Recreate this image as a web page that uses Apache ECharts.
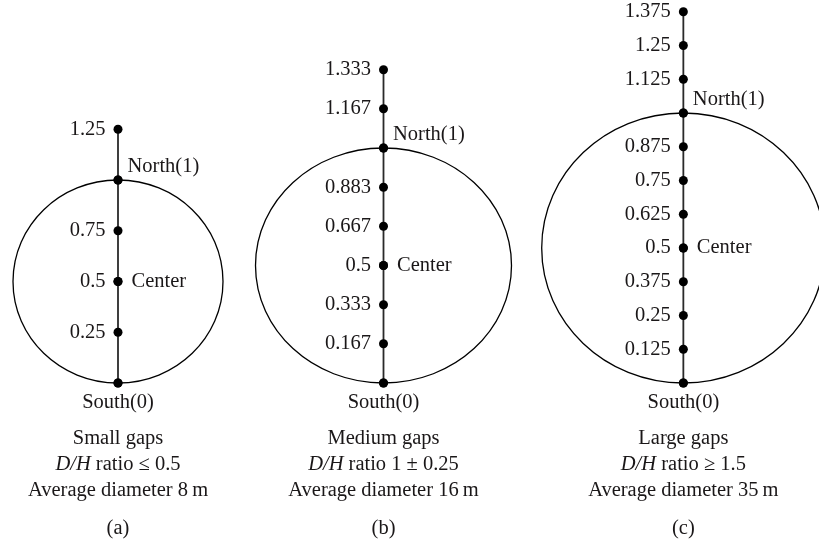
<!DOCTYPE html>
<html><head><meta charset="utf-8">
<script src="https://cdn.jsdelivr.net/npm/echarts@6/dist/echarts.min.js"></script>
<style>html,body{margin:0;padding:0;background:#fff}#c{width:819px;height:540px}</style>
</head><body><div id="c"></div>
<script>
// ---- data ----
const aValues = [0, 0.25, 0.5, 0.75, 1, 1.25];
const aTickLabels = ['', '0.25', '0.5', '0.75', '', '1.25'];
const bValues = [0, 0.167, 0.333, 0.5, 0.667, 0.833, 1, 1.167, 1.333];
const bTickLabels = ['', '0.167', '0.333', '0.5', '0.667', '0.883', '', '1.167', '1.333'];
const cValues = [0, 0.125, 0.25, 0.375, 0.5, 0.625, 0.75, 0.875, 1, 1.125, 1.25, 1.375];
const cTickLabels = ['', '0.125', '0.25', '0.375', '0.5', '0.625', '0.75', '0.875', '', '1.125', '1.25', '1.375'];
const markerValues = [1, 0.5, 0];
const markerNames = ['North(1)', 'Center', 'South(0)'];
const gapClasses = ['Small gaps', 'Medium gaps', 'Large gaps'];
const ratioTexts = [' ratio \u2264 0.5', ' ratio 1 \u00b1 0.25', ' ratio \u2265 1.5'];
const diameterTexts = ['Average diameter 8\u2009m', 'Average diameter 16\u2009m', 'Average diameter 35\u2009m'];
const panelTags = ['(a)', '(b)', '(c)'];
const gapCenter = [0, 0.5];
const gapRadius = [1, 0.5];

// ---- layout / style ----
const FONT = 'Liberation Serif';
const TXT = '#1a1718';
const layouts = [
  {left: 13, width: 210, top: 78.5, height: 304.5, max: 1.5},
  {left: 255.5, width: 256, top: 30.5, height: 352.5, max: 1.5},
  {left: 541.7, width: 283.3, top: 5, height: 378, max: 1.4}
];
const panels = [
  {values: aValues, labels: aTickLabels},
  {values: bValues, labels: bTickLabels},
  {values: cValues, labels: cTickLabels}
];
const markerLabelStyles = [
  {position: 'right', distance: 5, offset: [0, -13]},
  {position: 'right', distance: 9},
  {position: 'bottom', distance: 5}
];
const baseText = {fontFamily: FONT, fontSize: 20.5, color: TXT, opacity: 1};

const grid = [], xAxis = [], yAxis = [], series = [];
const hidden = {axisLine: {show: false}, axisTick: {show: false}, axisLabel: {show: false}, splitLine: {show: false}};
const dotStyle = {color: '#000', opacity: 1};

layouts.forEach((L, i) => {
  grid.push({left: L.left, width: L.width, top: L.top, height: L.height, outerBoundsMode: 'none', containLabel: false});
  xAxis.push(Object.assign({
    gridIndex: i, type: 'value', min: -1, max: 1,
    name: gapClasses[i] + '\n{i|D/H}' + ratioTexts[i] + '\n' + diameterTexts[i] + '\n{p|' + panelTags[i] + '}',
    nameLocation: 'middle', nameGap: 43,
    nameTextStyle: Object.assign({}, baseText, {lineHeight: 26, align: 'center', verticalAlign: 'top',
      rich: {
        i: Object.assign({}, baseText, {fontStyle: 'italic', lineHeight: 26}),
        p: Object.assign({}, baseText, {lineHeight: 50})
      }})
  }, hidden));
  yAxis.push(Object.assign({gridIndex: i, type: 'value', min: 0, max: L.max}, hidden));

  const P = panels[i];
  series.push({
    type: 'custom', xAxisIndex: i, yAxisIndex: i, z: 1, silent: true,
    data: [[gapCenter[0], gapCenter[1], gapRadius[0], gapRadius[1]]],
    renderItem: function (params, api) {
      const ctr = [api.value(0), api.value(1)];
      const c = api.coord(ctr);
      const s = api.size([api.value(2), api.value(3)], ctr);
      return {type: 'ellipse', shape: {cx: c[0], cy: c[1], rx: s[0], ry: s[1]},
        style: {fill: 'none', stroke: '#000', lineWidth: 1.3}};
    }
  });
  series.push({
    type: 'line', xAxisIndex: i, yAxisIndex: i, z: 2, silent: true, showSymbol: false,
    data: P.values.map(v => [0, v]),
    lineStyle: {color: '#2a2a2a', width: 1.8, opacity: 1}
  });
  series.push({
    type: 'scatter', xAxisIndex: i, yAxisIndex: i, z: 3, silent: true,
    symbolSize: 9, itemStyle: dotStyle,
    data: P.values.map((v, j) => ({value: [0, v], label: {formatter: P.labels[j]}})),
    label: Object.assign({show: true, position: 'left', distance: 8}, baseText)
  });
  series.push({
    type: 'scatter', xAxisIndex: i, yAxisIndex: i, z: 3, silent: true,
    symbolSize: 9, itemStyle: dotStyle,
    data: markerValues.map((v, j) => ({value: [0, v],
      label: Object.assign({show: true, formatter: markerNames[j]}, baseText, markerLabelStyles[j])}))
  });
});

const chart = echarts.init(document.getElementById('c'), null, {renderer: 'canvas'});
chart.setOption({animation: false, backgroundColor: '#fff', grid, xAxis, yAxis, series});
</script>
</body></html>
